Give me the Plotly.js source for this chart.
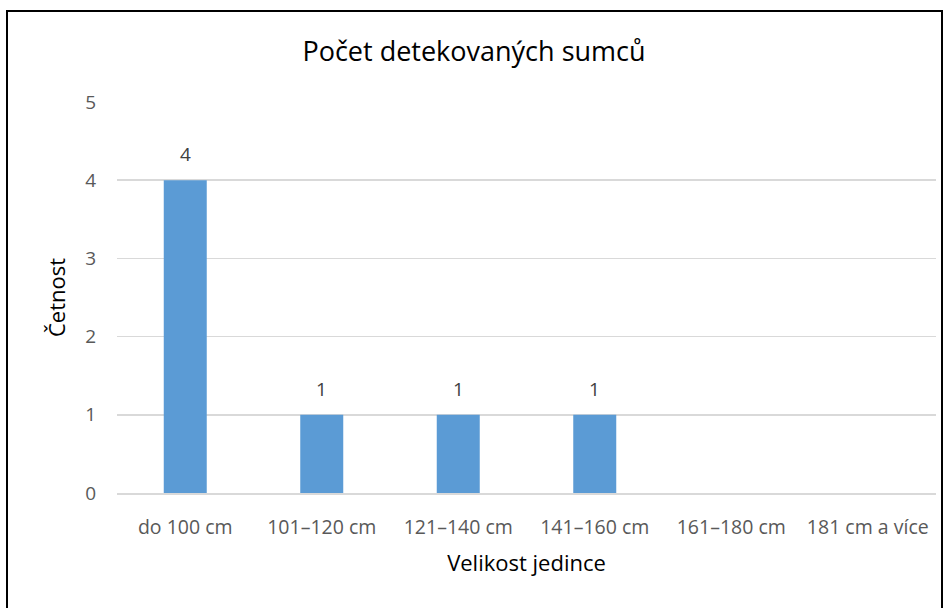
<!DOCTYPE html>
<html><head><meta charset="utf-8">
<script src="https://cdn.plot.ly/plotly-3.0.1.min.js"></script>
<style>
html,body{margin:0;padding:0;background:#fff;}
#wrap{position:relative;width:948px;height:608px;}
#chart{width:948px;height:608px;}
#frame{position:absolute;left:6px;top:10px;width:937px;height:620px;border:2px solid #000;box-sizing:border-box;pointer-events:none;}
</style></head>
<body><div id="wrap"><div id="chart"></div><div id="frame"></div></div>
<script>
const categories = ["do 100 cm","101–120 cm","121–140 cm","141–160 cm","161–180 cm","181 cm a více"];
const counts = [4,1,1,1,0,0];
const yTicks = [0,1,2,3,4,5];

const font = "'Open Sans', sans-serif";
const annotations = categories.map((c,i)=>({
  x:c, y:counts[i], text: counts[i]>0 ? String(counts[i]) : '', showarrow:false,
  yshift:26, font:{family:font,size:19,color:'#404040'}
})).filter(a=>a.text!=='');

Plotly.newPlot('chart',[{
  type:'bar', x:categories, y:counts,
  marker:{color:'#5b9bd5'}, hoverinfo:'x+y'
}],{
  width:948,height:608,
  margin:{l:117,r:12,t:102,b:115},
  paper_bgcolor:'#fff',plot_bgcolor:'#fff',
  bargap:0.685,
  title:{text:'Počet detekovaných sumců',font:{family:font,size:27,color:'#000'},x:0.5,xanchor:'center',y:0.915,yanchor:'middle'},
  xaxis:{type:'category',showgrid:false,zeroline:false,showline:true,linecolor:'#d9d9d9',linewidth:1.5,ticks:'',
    tickfont:{family:font,size:19.5,color:'#595959'},ticklabelstandoff:16,
    title:{text:'Velikost jedince',font:{family:font,size:22,color:'#000'},standoff:16}},
  yaxis:{range:[0,5],tickvals:yTicks,showgrid:true,gridcolor:'#d9d9d9',gridwidth:1.5,zeroline:false,ticks:'',
    tickfont:{family:font,size:19,color:'#595959'},ticklabelstandoff:20,
    title:{text:'Četnost',font:{family:font,size:22,color:'#000'},standoff:13}},
  annotations:annotations,
  showlegend:false
},{displayModeBar:false,staticPlot:true});
</script></body></html>
